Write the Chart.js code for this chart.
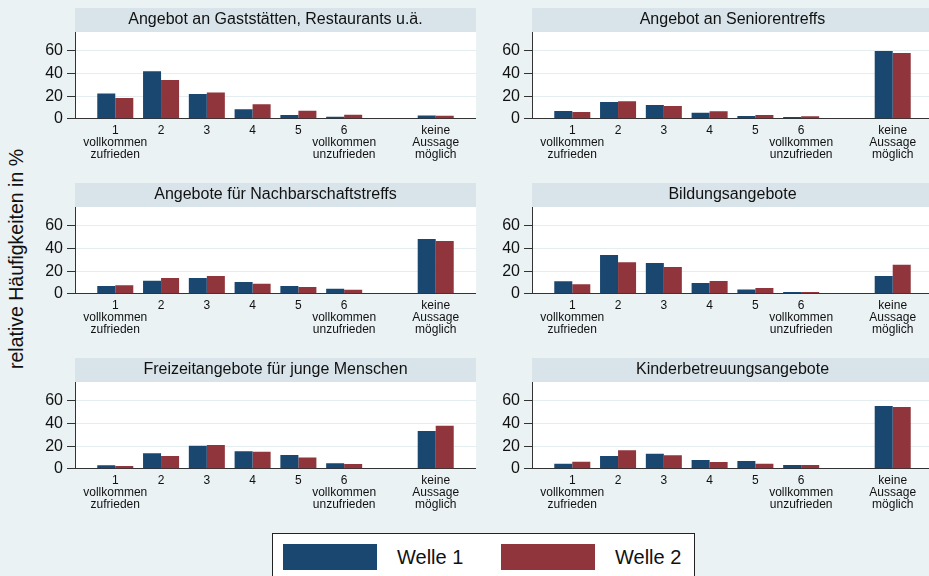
<!DOCTYPE html>
<html>
<head>
<meta charset="utf-8">
<script src="https://cdn.jsdelivr.net/npm/chart.js@4.4.1/dist/chart.umd.min.js"></script>
<style>
  html, body { margin: 0; padding: 0; }
  body {
    width: 929px; height: 576px; overflow: hidden; position: relative;
    background: #EAF2F3;
    font-family: "Liberation Sans", Arial, Helvetica, sans-serif;
  }
  .panel { position: absolute; width: 476px; height: 165px; }
  #ytitle {
    position: absolute; left: 16px; top: 259px;
    transform: translate(-50%, -50%) rotate(-90deg);
    white-space: nowrap; font-size: 19.5px; color: #111;
  }
  #legend {
    position: absolute; left: 272px; top: 533px; width: 423px; height: 60px;
    background: #fff; border: 1px solid #222; box-sizing: border-box;
  }
  .sw { position: absolute; top: 10px; width: 94px; height: 26px; }
  .lt { position: absolute; top: 10px; height: 26px; line-height: 26px; font-size: 20px; color: #111; white-space: nowrap; }
</style>
</head>
<body>
<div id="ytitle">relative Häufigkeiten in %</div>
<div id="legend"></div>
<script>
// ---------- data ----------
const categories = [1, 2, 3, 4, 5, 6, 8];
const categoryLabels = [
  ["1", "vollkommen", "zufrieden"], "2", "3", "4", "5",
  ["6", "vollkommen", "unzufrieden"], ["keine", "Aussage", "möglich"]
];
const yTicks = [0, 20, 40, 60];
const yMax = 76.8;
const seriesNames = ["Welle 1", "Welle 2"];
const seriesColors = ["#1A476F", "#90353B"];

const panelTitles = [
  "Angebot an Gaststätten, Restaurants u.ä.",
  "Angebot an Seniorentreffs",
  "Angebote für Nachbarschaftstreffs",
  "Bildungsangebote",
  "Freizeitangebote für junge Menschen",
  "Kinderbetreuungsangebote"
];

const gastW1     = [22.2, 42.0, 21.9,  8.3,  3.3, 1.8,  2.7];
const gastW2     = [18.3, 34.3, 23.3, 12.7,  7.1, 3.5,  2.6];
const seniorW1   = [ 6.8, 14.8, 12.1,  5.3,  2.4, 1.5, 60.0];
const seniorW2   = [ 5.9, 15.4, 11.2,  6.5,  3.3, 2.1, 58.2];
const nachbarW1  = [ 6.8, 11.5, 13.9, 10.3,  6.8, 4.4, 48.5];
const nachbarW2  = [ 7.4, 13.9, 15.7,  8.9,  5.9, 3.5, 46.7];
const bildungW1  = [10.9, 34.3, 27.2,  9.5,  3.8, 1.5, 15.7];
const bildungW2  = [ 8.3, 27.8, 23.6, 11.2,  5.0, 1.5, 25.7];
const freizeitW1 = [ 3.0, 13.6, 20.4, 15.4, 12.1, 4.7, 33.4];
const freizeitW2 = [ 2.4, 11.2, 21.0, 15.1,  9.8, 4.1, 38.1];
const kinderW1   = [ 4.4, 11.2, 13.3,  7.7,  6.8, 3.3, 55.6];
const kinderW2   = [ 6.2, 16.3, 11.8,  5.9,  4.4, 3.3, 54.7];

const panelSeries = [
  [gastW1, gastW2], [seniorW1, seniorW2], [nachbarW1, nachbarW2],
  [bildungW1, bildungW2], [freizeitW1, freizeitW2], [kinderW1, kinderW2]
];

// ---------- layout ----------
const FONT = '"Liberation Sans", Arial, Helvetica, sans-serif';
Chart.defaults.font.family = FONT;
Chart.defaults.color = '#111';

const CANVAS_W = 476, CANVAS_H = 165, BAND_H = 24, PLOT_H = 86.67, YAXIS_W = 75;
const colLeft = [0, 457];
const rowTop = [8, 183, 358];

const bandPlugin = {
  id: 'band',
  beforeDraw(chart, args, opts) {
    const { ctx, chartArea: a } = chart;
    ctx.save();
    ctx.fillStyle = '#D8E4EA';
    ctx.fillRect(a.left, 0, a.right - a.left, a.top);
    ctx.fillStyle = '#FFFFFF';
    ctx.fillRect(a.left, a.top, a.right - a.left, a.bottom - a.top);
    ctx.fillStyle = '#111';
    ctx.font = '16px ' + FONT;
    ctx.textAlign = 'center';
    ctx.textBaseline = 'alphabetic';
    ctx.fillText(opts.text, (a.left + a.right) / 2, 15.5);
    ctx.restore();
  }
};

panelTitles.forEach((title, p) => {
  const col = p % 2, row = Math.floor(p / 2);
  const cv = document.createElement('canvas');
  cv.className = 'panel';
  cv.width = CANVAS_W; cv.height = CANVAS_H;
  cv.style.left = colLeft[col] + 'px';
  cv.style.top = rowTop[row] + 'px';
  document.body.appendChild(cv);

  const datasets = panelSeries[p].map((vals, s) => ({
    label: seriesNames[s],
    data: vals.map((v, i) => ({ x: categories[i], y: v })),
    backgroundColor: seriesColors[s],
    borderWidth: 0,
    categoryPercentage: 0.787,
    barPercentage: 1.0
  }));

  new Chart(cv, {
    type: 'bar',
    data: { datasets },
    plugins: [bandPlugin],
    options: {
      responsive: false,
      animation: false,
      devicePixelRatio: 1,
      layout: { padding: { top: BAND_H, left: 0, right: 0, bottom: 0 } },
      plugins: {
        legend: { display: false },
        tooltip: { enabled: false },
        title: { display: false },
        band: { text: title }
      },
      scales: {
        x: {
          type: 'linear',
          offset: false,
          min: 0.12, max: 8.88,
          afterBuildTicks: (sc) => { sc.ticks = categories.map(v => ({ value: v })); },
          afterFit: (sc) => { sc.height = CANVAS_H - BAND_H - PLOT_H; },
          grid: { display: false, drawTicks: false, offset: false },
          border: { display: true, color: '#333', width: 1 },
          ticks: {
            autoSkip: false, maxRotation: 0, minRotation: 0,
            padding: 6,
            font: { size: 12, lineHeight: 1.0 },
            color: '#111',
            callback: (value, index) => categoryLabels[index]
          }
        },
        y: {
          min: 0, max: yMax,
          afterBuildTicks: (sc) => { sc.ticks = yTicks.map(v => ({ value: v })); },
          afterFit: (sc) => { sc.width = YAXIS_W; },
          grid: {
            color: '#E4EDF0', lineWidth: 1,
            drawTicks: true, tickLength: 8, tickColor: '#333', tickWidth: 1
          },
          border: { display: true, color: '#333', width: 1 },
          ticks: { padding: 4, font: { size: 16 }, color: '#111' }
        }
      }
    }
  });
});

// ---------- legend ----------
const lg = document.getElementById('legend');
const swLeft = [10, 228], txtLeft = [124, 342];
seriesNames.forEach((name, s) => {
  const sw = document.createElement('div');
  sw.className = 'sw';
  sw.style.left = swLeft[s] + 'px';
  sw.style.background = seriesColors[s];
  lg.appendChild(sw);
  const t = document.createElement('div');
  t.className = 'lt';
  t.style.left = txtLeft[s] + 'px';
  t.textContent = name;
  lg.appendChild(t);
});
</script>
</body>
</html>
